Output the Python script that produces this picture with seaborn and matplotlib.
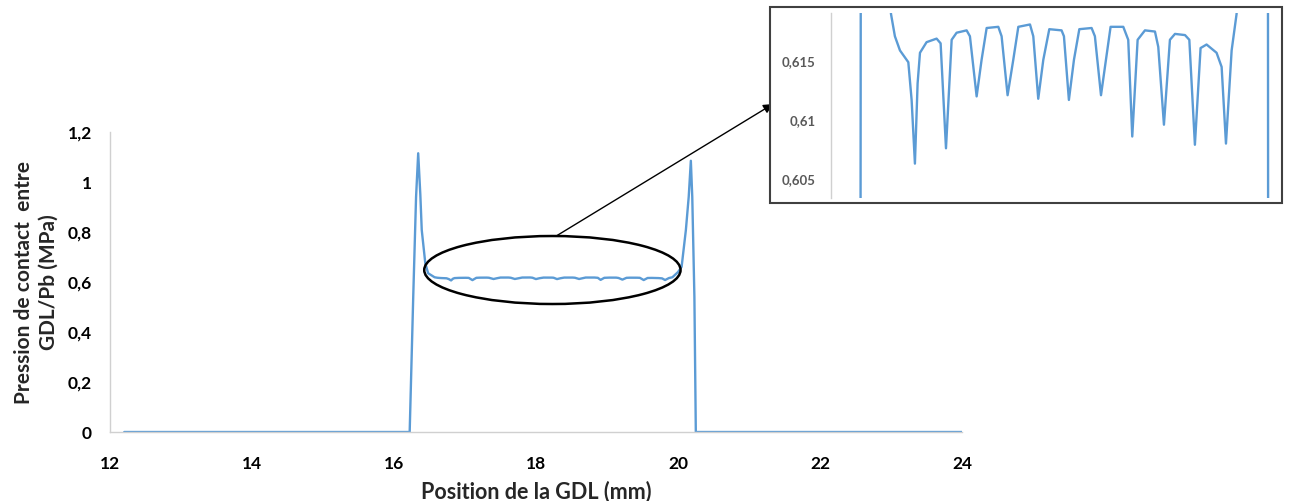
import matplotlib.pyplot as plt
import matplotlib.ticker as mticker
from matplotlib.patches import Ellipse, Rectangle
import numpy as np
import pandas as pd
import seaborn as sns

# ---------------------------------------------------------------------------
# Data
# ---------------------------------------------------------------------------

position_mm = [
    12.2, 16.22, 16.27, 16.31, 16.34, 16.37, 16.39, 16.44, 16.48,
    16.571, 16.609, 16.658, 16.739, 16.771, 16.803, 16.829, 16.852, 16.916,
    17.013, 17.052, 17.104, 17.159, 17.207, 17.304, 17.336, 17.401, 17.449,
    17.498, 17.611, 17.643, 17.701, 17.756, 17.805, 17.918, 17.950, 17.998,
    18.047, 18.105, 18.224, 18.247, 18.295, 18.344, 18.396, 18.515, 18.547,
    18.606, 18.654, 18.699, 18.822, 18.870, 18.909, 18.961, 19.032, 19.129,
    19.161, 19.216, 19.274, 19.323, 19.420, 19.462, 19.516, 19.571, 19.629,
    19.726, 19.775, 19.817, 19.872, 19.920,
    20.0, 20.05, 20.11, 20.15, 20.18, 20.2, 20.23, 20.25, 24.0,
]
pression_mpa = [
    0.0, 0.0, 0.54, 0.94, 1.115, 0.95, 0.808, 0.675, 0.635,
    0.6190, 0.6171, 0.6159, 0.6149, 0.6117, 0.6063, 0.6131, 0.6157, 0.6166,
    0.6169, 0.6165, 0.6076, 0.6168, 0.6174, 0.6176, 0.6171, 0.6120, 0.6151,
    0.6178, 0.6179, 0.6171, 0.6121, 0.6151, 0.6179, 0.6181, 0.6171, 0.6118,
    0.6151, 0.6177, 0.6176, 0.6171, 0.6117, 0.6151, 0.6177, 0.6178, 0.6171,
    0.6121, 0.6151, 0.6179, 0.6179, 0.6168, 0.6086, 0.6168, 0.6176, 0.6175,
    0.6162, 0.6096, 0.6168, 0.6173, 0.6172, 0.6168, 0.6079, 0.6161, 0.6164,
    0.6157, 0.6145, 0.6080, 0.6159, 0.6190,
    0.64, 0.661, 0.808, 0.941, 1.085, 0.94, 0.54, 0.0, 0.0,
]

x_ticks = [12, 14, 16, 18, 20, 22, 24]
y_ticks = [0, 0.2, 0.4, 0.6, 0.8, 1.0, 1.2]
zoom_ticks = [0.605, 0.61, 0.615]

df = pd.DataFrame({"position": position_mm, "pression": pression_mpa})

# ---------------------------------------------------------------------------
# Style
# ---------------------------------------------------------------------------

sns.set_style("white")
plt.rcParams["font.family"] = ["Lato", "DejaVu Sans"]
plt.rcParams["font.weight"] = "bold"

LINE = "#5B9BD5"
SPINE = "#D0D0D0"
comma = mticker.FuncFormatter(lambda v, _: f"{v:g}".replace(".", ","))

fig = plt.figure(figsize=(12.9, 5.01), dpi=100)

# ---------------------------------------------------------------------------
# Main chart
# ---------------------------------------------------------------------------

ax = fig.add_axes([0.0853, 0.1377, 0.6605, 0.5988])
sns.lineplot(data=df, x="position", y="pression", sort=False, estimator=None,
             color=LINE, linewidth=1.7, ax=ax)
ax.set_xlim(12, 24)
ax.set_ylim(0, 1.2)
ax.set_xticks(x_ticks)
ax.set_yticks(y_ticks)
ax.xaxis.set_major_formatter(comma)
ax.yaxis.set_major_formatter(comma)
ax.tick_params(length=0, labelsize=12.5, colors="black")
ax.tick_params(axis="x", pad=17)
ax.tick_params(axis="y", pad=13)
for lab in ax.get_xticklabels() + ax.get_yticklabels():
    lab.set_fontweight("bold")
for side in ["top", "right"]:
    ax.spines[side].set_visible(False)
for side in ["left", "bottom"]:
    ax.spines[side].set_color(SPINE)
    ax.spines[side].set_linewidth(1)

ax.set_xlabel("Position de la GDL (mm)", fontsize=15.5, fontweight="bold")
ax.xaxis.set_label_coords(0.5, -0.163)
ax.xaxis.label.set_va("top")
ax.set_ylabel("Pression de contact  entre\nGDL/Pb (MPa)", fontsize=15,
              fontweight="bold", linespacing=1.3)
ax.yaxis.label.set_va("center")
ax.yaxis.set_label_coords(-0.087, 0.5)

ax.add_patch(Ellipse((18.23, 0.648), 3.61, 0.272, fill=False,
                     edgecolor="black", linewidth=1.8, zorder=4))
ax.annotate("", xy=(0.5992, 0.7924), xycoords="figure fraction",
            xytext=(18.29, 0.785), textcoords="data",
            arrowprops=dict(arrowstyle="-|>", color="black", lw=1,
                            mutation_scale=14, shrinkA=0, shrinkB=0),
            annotation_clip=False)

# ---------------------------------------------------------------------------
# Zoomed inset
# ---------------------------------------------------------------------------

fig.add_artist(Rectangle((0.5969, 0.5948), 0.3969, 0.3912,
                         transform=fig.transFigure, fill=True,
                         facecolor="white", edgecolor="#404040",
                         linewidth=1.5, zorder=2))

axz = fig.add_axes([0.6442, 0.6042, 0.348, 0.3705], zorder=3)
axz.patch.set_alpha(0)
sns.lineplot(data=df, x="position", y="pression", sort=False, estimator=None,
             color=LINE, linewidth=1.7, ax=axz)
axz.set_xlim(15.99, 20.34)
axz.set_ylim(0.60336, 0.6191)
axz.set_yticks(zoom_ticks)
axz.yaxis.set_major_formatter(comma)
axz.set_xticks([])
axz.set_xlabel("")
axz.set_ylabel("")
axz.tick_params(length=0, labelsize=9.5, colors="#595959", pad=11)
for lab in axz.get_yticklabels():
    lab.set_fontweight("bold")
for side in ["top", "right", "bottom"]:
    axz.spines[side].set_visible(False)
axz.spines["left"].set_color(SPINE)
axz.spines["left"].set_linewidth(1)

fig.savefig("out.png", dpi=100)
